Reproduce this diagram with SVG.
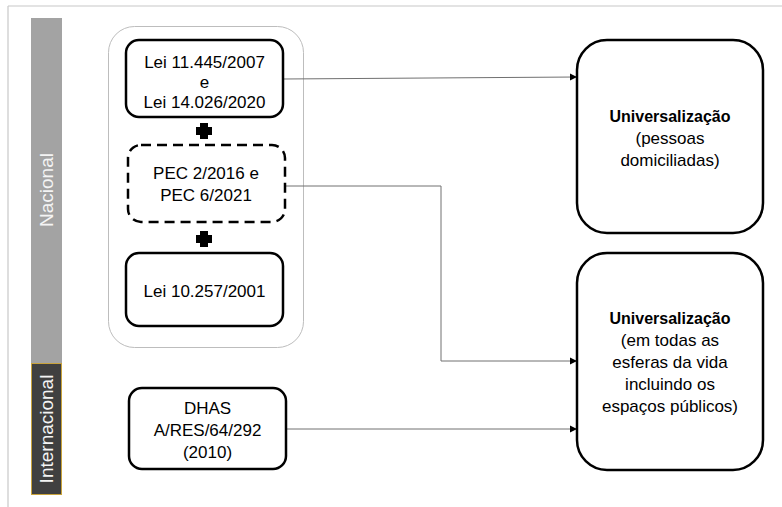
<svg xmlns="http://www.w3.org/2000/svg" width="782" height="507" viewBox="0 0 782 507">
<style>
.t{font-family:"Liberation Sans",Arial,sans-serif;font-size:17px;fill:#000;text-anchor:middle}
.b{font-weight:bold;font-size:16px}
.lbl{font-family:"Liberation Sans",Arial,sans-serif;font-size:19px;fill:#f4f4f4;text-anchor:middle}
.box{fill:#fff;stroke:#000;stroke-width:2.5}
.con{fill:none;stroke:#707070;stroke-width:1}
</style>
<defs>
<marker id="arr" markerWidth="8" markerHeight="8" refX="7" refY="4" orient="auto" markerUnits="userSpaceOnUse">
<path d="M0,0.5 L7,4 L0,7.5 Z" fill="#000"/>
</marker>
</defs>
<rect width="782" height="507" fill="#fff"/>
<g id="frame" stroke="#c8c8c8" stroke-width="1.2" fill="none">
<line x1="8" y1="6" x2="782" y2="6"/>
<line x1="8" y1="6" x2="8" y2="507"/>
</g>
<g id="bar-nacional">
<rect x="31" y="18" width="31" height="345" fill="#a3a3a3"/>
<text class="lbl" transform="translate(53,190) rotate(-90)">Nacional</text>
</g>
<g id="bar-internacional">
<rect x="31.5" y="363.5" width="30" height="131" fill="#404040" stroke="#c9a33c" stroke-width="1"/>
<text class="lbl" transform="translate(53,429) rotate(-90)">Internacional</text>
</g>
<g id="container">
<rect x="108.5" y="26.5" width="195" height="321" rx="26" fill="none" stroke="#bdbdbd" stroke-width="1"/>
</g>
<g id="connectors">
<line class="con" x1="283" y1="79" x2="577" y2="77" marker-end="url(#arr)"/>
<polyline class="con" points="285,186 441,186 441,361 577,361" marker-end="url(#arr)"/>
<line class="con" x1="286" y1="429" x2="577" y2="429" marker-end="url(#arr)"/>
</g>
<g id="lei11445">
<rect class="box" x="126" y="40" width="157" height="77" rx="13"/>
<text class="t" x="204.5" y="68">Lei 11.445/2007</text>
<text class="t" x="204.5" y="88">e</text>
<text class="t" x="204.5" y="108">Lei 14.026/2020</text>
</g>
<g id="plus1">
<path d="M200,123 h8 v4 h4 v8 h-4 v4 h-8 v-4 h-4 v-8 h4 z" fill="#000"/>
</g>
<g id="pec">
<rect class="box" x="128" y="145" width="157" height="77" rx="13" stroke-dasharray="10,6"/>
<text class="t" x="206" y="179">PEC 2/2016 e</text>
<text class="t" x="206" y="201">PEC 6/2021</text>
</g>
<g id="plus2">
<path d="M200,231 h8 v4 h4 v8 h-4 v4 h-8 v-4 h-4 v-8 h4 z" fill="#000"/>
</g>
<g id="lei10257">
<rect class="box" x="126" y="253" width="157" height="73" rx="13"/>
<text class="t" x="204.5" y="297">Lei 10.257/2001</text>
</g>
<g id="dhas">
<rect class="box" x="129" y="388" width="157" height="81" rx="13"/>
<text class="t" x="207.5" y="414">DHAS</text>
<text class="t" x="207.5" y="436">A/RES/64/292</text>
<text class="t" x="207.5" y="458">(2010)</text>
</g>
<g id="univ1">
<rect class="box" x="577" y="40" width="186" height="193" rx="30"/>
<text class="t b" x="670" y="122">Universalização</text>
<text class="t" x="670" y="144">(pessoas</text>
<text class="t" x="670" y="166">domiciliadas)</text>
</g>
<g id="univ2">
<rect class="box" x="577" y="253" width="186" height="217" rx="30"/>
<text class="t b" x="670" y="324">Universalização</text>
<text class="t" x="670" y="346">(em todas as</text>
<text class="t" x="670" y="368">esferas da vida</text>
<text class="t" x="670" y="390">incluindo os</text>
<text class="t" x="670" y="412">espaços públicos)</text>
</g>
</svg>
